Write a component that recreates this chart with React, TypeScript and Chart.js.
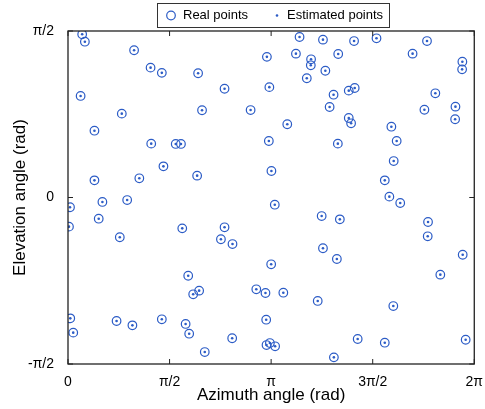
import React, { useEffect, useRef } from "react";
import { Chart, registerables } from "chart.js";
Chart.register(...registerables);

const PI = Math.PI;

// Real points (radians)
const azimuth = [
  0.219, 0.261, 1.022, 1.277, 1.451, 0.195, 0.832, 2.012, 2.421, 3.076, 3.114, 2.073, 2.824,
  3.581, 3.943, 4.424, 3.525, 3.759, 3.755, 4.179, 3.98, 3.693, 4.107, 4.342, 4.434, 4.046,
  4.771, 5.552, 5.329, 6.099, 6.095, 5.681, 5.512, 5.992, 0.409, 1.287, 1.476, 0.409, 1.103,
  1.666, 1.747, 1.997, 4.342, 4.378, 3.391, 3.106, 4.173, 3.146, 5.987, 5.001, 5.083, 5.037,
  4.899, 4.97, 0.031, 0.532, 0.915, 0.475, 0.015, 0.801, 1.767, 2.421, 2.365, 2.544, 1.859,
  3.198, 3.923, 4.204, 5.138, 5.568, 5.563, 3.943, 4.158, 3.142, 6.104, 5.758, 1.936, 2.028,
  2.912, 3.054, 0.035, 0.751, 0.996, 1.451, 0.081, 1.819, 1.874, 3.065, 2.539, 2.115, 3.33,
  3.862, 5.031, 3.07, 3.122, 3.203, 4.48, 4.899, 6.15, 4.112,
];
const elevation = [
  1.54, 1.47, 1.389, 1.225, 1.176, 0.958, 0.791, 1.172, 1.026, 1.327, 1.041, 0.823, 0.825,
  1.514, 1.489, 1.476, 1.357, 1.304, 1.247, 1.354, 1.196, 1.125, 0.97, 1.008, 1.033, 0.854,
  1.502, 1.476, 1.357, 1.281, 1.209, 0.983, 0.828, 0.857, 0.63, 0.508, 0.294, 0.162, 0.181,
  0.505, 0.505, 0.206, 0.75, 0.7, 0.691, 0.533, 0.508, 0.25, 0.738, 0.668, 0.533, 0.344,
  0.162, 0.008, -0.092, -0.042, -0.024, -0.2, -0.275, -0.375, -0.291, -0.281, -0.394, -0.439, -0.738,
  -0.068, -0.175, -0.206, -0.052, -0.231, -0.366, -0.479, -0.58, -0.63, -0.54, -0.728, -0.913, -0.879,
  -0.866, -0.901, -1.14, -1.165, -1.206, -1.149, -1.275, -1.193, -1.285, -1.153, -1.328, -1.458, -0.898,
  -0.976, -1.024, -1.392, -1.373, -1.404, -1.335, -1.37, -1.342, -1.508,
];
// Estimated points coincide with the real points in the picture
const estAzimuth = azimuth;
const estElevation = elevation;

const xTickValues = [0, PI / 2, PI, (3 * PI) / 2, 2 * PI];
const xTickLabels = ["0", "π/2", "π", "3π/2", "2π"];
const yTickValues = [-PI / 2, 0, PI / 2];
const yTickLabels = ["-π/2", "0", "π/2"];

const legendLabels = ["Real points", "Estimated points"];
const BLUE = "#2c5cc6";
const FONT = "'Liberation Sans', Arial, sans-serif";

const framePlugin = {
  id: "frame",
  afterDraw(chart: any) {
    const { ctx, chartArea: a, scales } = chart;
    ctx.save();
    ctx.strokeStyle = "#222";
    ctx.lineWidth = 1.3;
    ctx.strokeRect(a.left, a.top, a.right - a.left, a.bottom - a.top);
    ctx.lineWidth = 1;
    ctx.beginPath();
    const tl = 5;
    xTickValues.forEach((v) => {
      const x = scales.x.getPixelForValue(v);
      ctx.moveTo(x, a.bottom);
      ctx.lineTo(x, a.bottom - tl);
      ctx.moveTo(x, a.top);
      ctx.lineTo(x, a.top + tl);
    });
    yTickValues.forEach((v) => {
      const y = scales.y.getPixelForValue(v);
      ctx.moveTo(a.left, y);
      ctx.lineTo(a.left + tl, y);
      ctx.moveTo(a.right, y);
      ctx.lineTo(a.right - tl, y);
    });
    ctx.stroke();

    // legend box
    const lx = 157, ly = 3, lw = 232, lh = 24;
    ctx.fillStyle = "#fff";
    ctx.fillRect(lx, ly, lw, lh);
    ctx.strokeStyle = "#333";
    ctx.lineWidth = 1;
    ctx.strokeRect(lx + 0.5, ly + 0.5, lw, lh);
    const cy = ly + lh / 2 + 0.5;
    ctx.strokeStyle = BLUE;
    ctx.lineWidth = 1.2;
    ctx.beginPath();
    ctx.arc(171, cy, 4.3, 0, 2 * PI);
    ctx.stroke();
    ctx.fillStyle = BLUE;
    ctx.beginPath();
    ctx.arc(277, cy, 1.3, 0, 2 * PI);
    ctx.fill();
    ctx.fillStyle = "#000";
    ctx.font = `13px ${FONT}`;
    ctx.textBaseline = "middle";
    ctx.textAlign = "left";
    ctx.fillText(legendLabels[0], 183, cy);
    ctx.fillText(legendLabels[1], 287, cy);
    ctx.restore();
  },
};

export default function App() {
  const ref = useRef<HTMLCanvasElement>(null);
  useEffect(() => {
    document.body.style.margin = "0";
    const real = azimuth.map((x, i) => ({ x, y: elevation[i] }));
    const est = estAzimuth.map((x, i) => ({ x, y: estElevation[i] }));
    const chart = new Chart(ref.current!, {
      type: "scatter",
      data: {
        datasets: [
          {
            label: legendLabels[0],
            data: real,
            pointStyle: "circle",
            pointRadius: 4.3,
            borderColor: BLUE,
            backgroundColor: "rgba(0,0,0,0)",
            borderWidth: 1.2,
          },
          {
            label: legendLabels[1],
            data: est,
            pointStyle: "circle",
            pointRadius: 1.3,
            borderWidth: 0,
            backgroundColor: BLUE,
            borderColor: BLUE,
          },
        ],
      },
      options: {
        animation: false,
        responsive: false,
        maintainAspectRatio: false,
        layout: { padding: { top: 31, right: 7, left: 0, bottom: 0 } },
        plugins: { legend: { display: false }, tooltip: { enabled: false } },
        scales: {
          x: {
            type: "linear",
            min: 0,
            max: 2 * PI,
            grid: { display: false },
            border: { display: false },
            afterBuildTicks: (s: any) => {
              s.ticks = xTickValues.map((value) => ({ value }));
            },
            afterFit: (s: any) => {
              s.height = 45;
            },
            ticks: {
              color: "#000",
              font: { family: FONT, size: 14 },
              padding: 2,
              maxRotation: 0,
              autoSkip: false,
              callback: (_v: any, i: number) => xTickLabels[i],
            },
            title: {
              display: true,
              text: "Azimuth angle (rad)",
              color: "#000",
              font: { family: FONT, size: 17 },
              padding: { top: 0, bottom: 3 },
            },
          },
          y: {
            type: "linear",
            min: -PI / 2,
            max: PI / 2,
            grid: { display: false },
            border: { display: false },
            afterBuildTicks: (s: any) => {
              s.ticks = yTickValues.map((value) => ({ value }));
            },
            afterFit: (s: any) => {
              s.width = 68;
            },
            ticks: {
              color: "#000",
              font: { family: FONT, size: 14 },
              padding: 6,
              autoSkip: false,
              callback: (_v: any, i: number) => yTickLabels[i],
            },
            title: {
              display: true,
              text: "Elevation angle (rad)",
              color: "#000",
              font: { family: FONT, size: 17 },
              padding: { top: 10, bottom: 0 },
            },
          },
        },
      },
      plugins: [framePlugin],
    });
    return () => chart.destroy();
  }, []);
  return (
    <div style={{ position: "absolute", left: 0, top: 0, width: 485, height: 409 }}>
      <canvas ref={ref} width={485} height={409} style={{ width: 485, height: 409 }} />
    </div>
  );
}
